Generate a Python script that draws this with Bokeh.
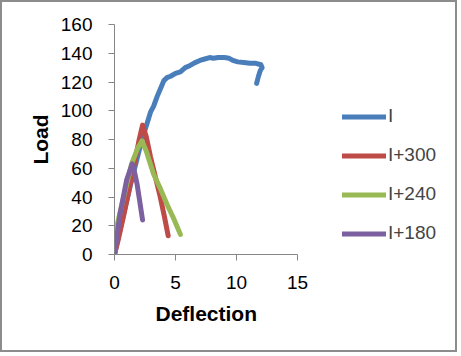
from bokeh.plotting import figure
from bokeh.models import Legend, LegendItem, Range1d, FixedTicker, Title
from bokeh.embed import file_html
from bokeh.resources import INLINE

# Data
x_I = [0, 0.3, 0.8, 1.3, 1.8, 2.1, 2.4, 2.7, 2.95, 3.2, 3.5, 3.8, 4.05, 4.3, 4.6, 5.0, 5.4, 5.8,
       6.2, 6.6, 7.0, 7.4, 7.8, 8.1, 8.5, 9.0, 9.4, 9.7, 10.1, 10.6, 11.1, 11.6, 12.0, 12.1,
       11.95, 11.8, 11.65]
y_I = [0, 12, 30, 48, 65, 75, 84, 92, 99, 103, 110, 116, 121, 123, 124, 126, 127, 130,
       131.5, 133.5, 135, 136, 137, 136.5, 137, 137, 136.5, 135, 134, 133.5, 133, 133, 132, 130,
       128, 124, 119]
x_300 = [0, 0.3, 0.75, 1.2, 1.6, 2.0, 2.3, 2.6, 2.95, 3.35, 3.75, 4.1, 4.4]
y_300 = [0, 10, 27, 45, 62, 79, 90, 82, 68, 54, 40, 26, 13]
x_240 = [0, 0.2, 0.75, 1.4, 1.9, 2.25, 2.6, 3.2, 3.75, 4.3, 4.85, 5.4]
y_240 = [0, 20, 40, 63, 74, 79, 72, 56, 46, 35, 25, 14]
x_180 = [0, 0.45, 1.0, 1.45, 1.65, 1.85, 2.05, 2.3]
y_180 = [0, 28, 52, 63, 57, 49, 38, 24]

series_names = ["I", "I+300", "I+240", "I+180"]
colors = ["#4A7EBB", "#BE4B48", "#98B954", "#7D60A0"]
xs = [x_I, x_300, x_240, x_180]
ys = [y_I, y_300, y_240, y_180]

x_ticks = [0, 5, 10, 15]
y_ticks = [0, 20, 40, 60, 80, 100, 120, 140, 160]
x_axis_max = 15

# frame spans to the right edge so the legend (drawn inside) is not clipped;
# the x axis itself is bounded to 0..15
frame_px = 457 - 112 - 2
axis_px = 183
p = figure(width=457, height=352, output_backend="svg", toolbar_location=None,
           x_range=Range1d(0, x_axis_max * frame_px / axis_px), y_range=Range1d(0, 160),
           min_border_left=112, min_border_right=2, min_border_top=22, min_border_bottom=100)
p.styles = {"border": "2px solid #8c8c8c"}
p.outline_line_color = None
p.xgrid.grid_line_color = None
p.ygrid.grid_line_color = None

FONT = "Liberation Sans"
for ax in (p.xaxis[0], p.yaxis[0]):
    ax.axis_line_color = "#868686"
    ax.major_tick_line_color = "#868686"
    ax.major_tick_out = 6
    ax.major_tick_in = 0
    ax.minor_tick_line_color = None
    ax.major_label_text_font = FONT
    ax.major_label_text_font_size = "19px"
    ax.major_label_text_color = "black"
    ax.axis_label_text_font = FONT
    ax.axis_label_text_font_size = "21px"
    ax.axis_label_text_font_style = "bold"
    ax.axis_label_text_color = "black"

p.xaxis.bounds = (0, x_axis_max)
p.xaxis.ticker = FixedTicker(ticks=x_ticks)
p.yaxis.ticker = FixedTicker(ticks=y_ticks)
p.yaxis.axis_label = "Load"
p.xaxis.major_label_standoff = 15
p.yaxis.major_label_standoff = 16
p.yaxis.axis_label_standoff = 6

# x-axis title placed under the 0..15 axis (not under the whole frame)
xtitle = Title(text="Deflection", align="left", offset=41,
               text_font=FONT, text_font_size="21px", text_font_style="bold",
               text_color="black", standoff=16)
p.add_layout(xtitle, "below")

items = []
for name, c, x, y in zip(series_names, colors, xs, ys):
    r = p.line(x, y, line_color=c, line_width=5, line_cap="round", line_join="round")
    items.append(LegendItem(label=name, renderers=[r]))

legend = Legend(items=items, location=(228, 10), glyph_width=44, glyph_height=21,
                label_height=21, spacing=17, padding=0, margin=0,
                label_standoff=2, label_text_font=FONT, label_text_font_size="19px",
                border_line_alpha=0, background_fill_alpha=0)
p.add_layout(legend, "center")

open("out.html", "w").write(file_html(p, INLINE))
